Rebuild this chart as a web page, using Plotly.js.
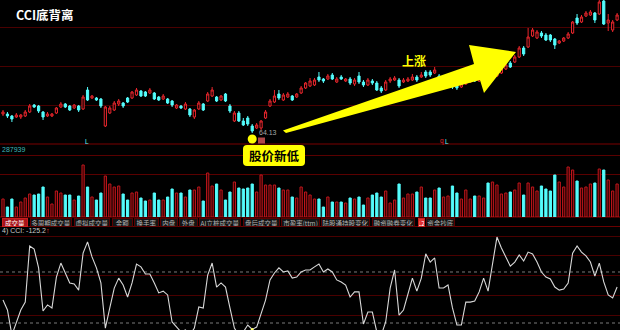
<!DOCTYPE html>
<html><head><meta charset="utf-8">
<script src="https://cdn.plot.ly/plotly-3.0.1.min.js"></script>
<style>html,body{margin:0;padding:0;background:#000;}#chart{width:620px;height:330px;}</style>
</head><body><div id="chart"></div>
<script>
// ---------- data ----------
const openP = [68.88,68.88,68.38,68.13,68.13,68.38,69.38,71.13,70.88,69.38,
68.38,68.38,69.13,70.63,71.38,70.88,70.38,70.88,70.13,74.88,
72.88,72.88,72.63,65.88,69.13,69.88,71.38,71.63,72.88,72.88,
73.63,74.63,74.38,74.13,74.13,73.13,72.63,72.63,72.13,70.38,
70.88,70.13,70.13,68.13,70.13,71.38,72.13,73.38,73.13,72.38,
73.88,70.88,67.13,69.13,67.13,67.88,65.88,65.38,65.38,67.88,
70.88,71.88,73.88,72.38,73.13,73.38,73.13,74.13,75.38,75.88,
76.13,78.13,77.63,77.63,78.63,76.88,78.13,77.13,77.63,76.38,
78.38,76.88,76.13,77.13,76.63,75.38,74.88,77.13,77.38,77.38,
76.88,77.13,77.38,78.13,78.13,79.38,79.38,79.13,78.38,76.88,
77.38,76.88,76.38,75.63,76.38,76.88,77.88,77.13,77.63,78.63,
78.13,78.38,79.13,80.13,81.63,81.88,83.13,85.38,85.63,88.38,
87.88,89.13,88.63,88.63,87.63,86.63,87.13,87.88,89.13,92.88,
91.88,93.38,93.63,94.13,93.88,97.13,91.63,89.88,92.38];
const highP = [69.88,69.38,68.63,69.13,68.88,69.88,71.38,71.38,71.13,69.63,
69.38,69.13,70.63,71.88,71.63,71.13,71.38,71.13,73.63,75.63,
73.63,73.13,72.88,70.88,70.88,72.13,72.63,71.88,73.13,74.63,
75.38,74.88,74.63,75.38,74.38,73.38,73.88,72.88,72.38,71.38,
71.13,71.88,70.38,70.13,72.13,71.63,74.38,75.63,73.38,73.63,
74.13,71.38,69.63,69.63,67.88,68.38,66.38,66.63,67.38,69.88,
72.63,74.88,74.88,74.13,74.38,73.63,74.13,75.88,76.88,77.88,
77.88,79.38,77.88,78.88,79.13,78.13,78.63,77.88,78.13,77.88,
79.38,77.38,77.88,77.63,77.13,75.88,77.38,78.13,78.38,77.88,
77.88,78.13,78.88,78.63,79.38,79.88,79.88,80.63,78.88,78.13,
78.38,77.38,76.63,76.88,77.63,78.13,78.13,78.38,78.88,78.88,
79.38,79.88,80.88,81.63,82.13,83.63,85.88,85.88,90.38,90.38,
89.88,89.63,89.13,88.88,87.88,87.38,88.13,89.38,92.13,93.88,
93.63,94.63,94.88,94.38,97.38,97.38,93.88,92.38,94.13];
const lowP = [68.38,67.88,66.88,67.88,67.63,68.13,69.13,70.38,69.13,67.38,
68.13,68.13,68.88,70.38,70.38,69.63,70.13,69.38,69.88,72.13,
72.63,72.13,70.38,65.63,68.88,69.63,70.88,70.38,71.63,72.63,
73.38,73.13,73.13,73.88,72.38,72.13,72.38,71.38,70.63,70.13,
70.13,69.88,68.13,67.63,69.88,69.63,71.88,73.13,71.88,72.13,
71.88,69.13,66.88,66.88,65.88,65.88,64.13,65.13,64.88,67.63,
70.63,71.63,72.38,72.13,72.88,72.13,72.88,73.88,75.13,75.63,
75.88,76.88,76.63,77.38,77.38,76.63,77.38,76.88,76.13,75.88,
76.38,75.63,75.88,76.13,74.63,74.13,74.63,76.63,77.13,75.38,
76.63,76.88,77.13,76.88,77.88,77.88,78.13,78.88,76.88,76.63,
77.13,75.13,74.88,75.38,76.13,76.63,76.88,76.88,77.38,77.63,
77.88,78.13,78.88,79.88,80.38,81.63,82.88,83.38,85.38,88.13,
87.63,87.88,87.13,86.88,85.13,86.38,86.88,87.63,88.88,91.13,
91.63,93.13,93.38,91.63,93.63,91.13,89.63,89.38,92.13];
const closeP = [69.38,68.38,67.63,68.63,68.63,69.38,70.88,70.63,69.63,68.13,
68.88,68.88,70.38,71.38,70.63,69.88,71.13,69.88,73.13,72.38,
73.38,72.38,70.88,70.63,70.38,71.63,72.13,70.88,71.88,74.38,
74.88,73.38,73.38,74.88,72.63,72.38,73.38,71.63,71.13,71.13,
70.38,71.38,68.63,69.88,71.63,69.88,73.88,74.88,72.13,73.38,
72.13,69.63,69.13,67.13,66.13,66.38,64.63,66.13,67.13,69.38,
72.13,73.38,72.88,73.63,73.88,72.38,73.88,75.38,76.63,77.13,
77.38,77.38,77.13,78.38,77.63,77.63,77.63,77.63,76.63,77.38,
76.88,76.13,77.38,76.63,74.88,74.63,76.88,77.63,77.88,75.88,
77.38,77.63,78.13,77.38,78.63,78.38,78.63,79.88,77.38,77.63,
78.13,75.63,75.38,76.38,77.38,77.63,77.13,77.88,78.38,77.88,
78.88,79.38,80.38,81.13,80.63,83.13,85.38,83.88,88.13,89.88,
89.38,88.38,87.38,87.38,86.13,87.13,87.88,88.88,91.88,91.63,
93.13,94.13,94.38,92.38,96.88,91.38,92.38,91.88,93.63];
const volume = [18,10,18,10,15,19,23,22,23,30,
20,13,26,24,22,22,17,21,52,30,
20,17,24,41,33,30,31,23,17,24,
25,19,16,17,24,17,17,20,28,24,
24,20,27,27,30,16,44,31,33,27,
17,25,35,29,28,29,33,25,42,32,
32,32,29,27,27,20,19,30,25,22,
18,18,10,20,15,15,15,14,19,18,
20,12,19,22,24,20,26,14,17,33,
19,23,23,25,30,19,19,27,29,20,
21,31,24,18,27,18,21,21,19,34,
35,32,23,24,25,27,34,22,34,30,
26,31,28,26,42,35,30,50,47,36,
29,30,33,34,48,47,37,26,33];
const cci = [-10,-49,-147,-96,-49,-18,202,190,116,-53,
-29,-41,80,135,96,57,53,29,174,218,
159,116,57,-120,-41,37,76,49,2,57,
131,120,92,92,57,18,25,10,-96,-116,
-135,-127,-147,-120,-37,-41,88,135,41,57,
41,-41,-120,-147,-135,-108,-125.2,-116,-61,-10,
69,96,116,100,104,76,80,100,108,108,
120,131,100,112,100,69,61,49,2,22,
22,-104,-57,-57,-135,-147,-96,37,108,-69,
-49,10,76,25,76,171,139,155,37,37,
49,-41,-108,-108,-18,-18,-14,22,76,25,
127,237,194,155,123,139,167,143,178,171,
139,100,80,73,41,29,33,57,174,202,
178,163,139,84,135,61,10,-2,41];
const tabLabels = ['成交量','多周期成交量','虚拟成交量','金额','换手率','内盘','外盘','AI立桩成交量',
'盘后成交量','市盈率(ttm)','陆股通持股变化','融资融券变化','L2','资金抄底'];
const titleText = 'CCI底背离';
const riseText = '上涨';
const lowText = '股价新低';
const volLabel = '287939';
const cciLabel = '4) CCI: -125.2';

// ---------- layout helpers ----------
const W = 620, H = 330;
const px = x => x / W, py = y => 1 - y / H;
const days = openP.map((_, i) => i);
const RED = '#e8262c', CYAN = '#54fcfc', VRED = '#c0161c';
const FONT = 'Noto Sans CJK SC, sans-serif';
const up = days.map(i => closeP[i] >= openP[i]);

const tabSpans = [[2,28],[30,72],[74,110],[112,133],[134,159],[160,178],[179,198],[199,241],
[243,280],[281,320],[321,370],[372,415],[418,425],[426,455]];

let minIdx = 0;
lowP.forEach((v, i) => { if (v < lowP[minIdx]) minIdx = i; });

const traces = [
  {type:'candlestick', x:days, open:openP, high:highP, low:lowP, close:closeP,
   xaxis:'x', yaxis:'y', whiskerwidth:0, hoverinfo:'skip',
   increasing:{line:{color:RED,width:1}, fillcolor:'#000'},
   decreasing:{line:{color:CYAN,width:1}, fillcolor:CYAN}},
  {type:'bar', x:days, y:volume, xaxis:'x', yaxis:'y2', hoverinfo:'skip', width:0.5,
   marker:{color:up.map(u => u ? '#300000' : CYAN),
           line:{color:up.map(u => u ? VRED : CYAN), width:1}}},
  {type:'scatter', mode:'lines', x:days, y:cci, xaxis:'x', yaxis:'y3', hoverinfo:'skip',
   line:{color:'#d8d8d8', width:1.1}},
  {type:'scatter', mode:'markers', x:[minIdx], y:[lowP[minIdx]-1.5], xaxis:'x', yaxis:'y',
   marker:{color:'#ffff00', size:9}, hoverinfo:'skip', cliponaxis:false},
  {type:'scatter', mode:'markers', x:[minIdx], y:[cci[minIdx]], xaxis:'x', yaxis:'y3',
   marker:{color:'#ffff60', size:3}, hoverinfo:'skip'}
];

function pathPx(pts){
  return pts.map((p,i)=>(i?'L':'M')+px(p[0]).toFixed(5)+','+py(p[1]).toFixed(5)).join(' ')+' Z';
}
function roundRect(x0,y0,x1,y1,r){
  const P=(x,y)=>px(x).toFixed(5)+','+py(y).toFixed(5);
  return 'M'+P(x0+r,y0)+' L'+P(x1-r,y0)+' Q'+P(x1,y0)+' '+P(x1,y0+r)+
    ' L'+P(x1,y1-r)+' Q'+P(x1,y1)+' '+P(x1-r,y1)+' L'+P(x0+r,y1)+' Q'+P(x0,y1)+' '+P(x0,y1-r)+
    ' L'+P(x0,y0+r)+' Q'+P(x0,y0)+' '+P(x0+r,y0)+' Z';
}
const hline = (y, color, dash) => ({type:'line', xref:'paper', yref:'paper', x0:0, x1:1,
  y0:py(y), y1:py(y), line:{color:color, width:1, dash:dash||'solid'}, layer:'below'});

const shapes = [
  hline(144,'#7a0000'), hline(217,'#8a0000'), hline(226.5,'#6a0000'),
  {type:'line', xref:'paper', yref:'y3', x0:0, x1:1, y0:100, y1:100,
   line:{color:'#7a7a7a', width:1, dash:'dot'}, layer:'below'},
  {type:'line', xref:'paper', yref:'y3', x0:0, x1:1, y0:-100, y1:-100,
   line:{color:'#7a7a7a', width:1, dash:'dot'}, layer:'below'},
  {type:'path', xref:'paper', yref:'paper', layer:'above', fillcolor:'#ffff00', line:{width:0},
   path:pathPx([[283,130.5],[474,64],[469,45],[516,52],[484,93],[480,80],[286,133]])},
  {type:'path', xref:'paper', yref:'paper', layer:'above', fillcolor:'#ffff00', line:{width:0},
   path:roundRect(243,145,305,166,4)},
  {type:'rect', xref:'paper', yref:'paper', layer:'above', fillcolor:'#b04848', line:{width:0},
   x0:px(258), x1:px(265), y0:py(143.5), y1:py(137.5)}
];

const annotations = [
  {xref:'paper', yref:'paper', x:px(14), y:py(15), xanchor:'left', yanchor:'middle', showarrow:false,
   text:'<b>'+titleText+'</b>', font:{family:FONT, size:12.5, color:'#ffffff'}},
  {xref:'paper', yref:'paper', x:px(413.5), y:py(60), xanchor:'center', yanchor:'middle', showarrow:false,
   text:'<b>'+riseText+'</b>', font:{family:FONT, size:12, color:'#ffff00'}},
  {xref:'paper', yref:'paper', x:px(274), y:py(155.5), xanchor:'center', yanchor:'middle', showarrow:false,
   text:'<b>'+lowText+'</b>', font:{family:FONT, size:12.5, color:'#000000'}},
  {xref:'x', yref:'y', x:minIdx, y:lowP[minIdx], xshift:5, yshift:1, xanchor:'left', yanchor:'middle',
   showarrow:false, text:lowP[minIdx].toFixed(2), font:{family:'Liberation Sans, Arial', size:7, color:'#a8a8a8'}},
  {xref:'paper', yref:'paper', x:0, y:py(149.5), xanchor:'left', yanchor:'middle', showarrow:false,
   text:volLabel, font:{family:'Liberation Sans, Arial', size:7, color:'#3fb8b8'}},
  {xref:'paper', yref:'paper', x:px(87), y:py(141), xanchor:'center', yanchor:'middle', showarrow:false,
   text:'L', font:{family:'Liberation Sans, Arial', size:6.5, color:CYAN}},
  {xref:'paper', yref:'paper', x:px(442), y:py(141), xanchor:'center', yanchor:'middle', showarrow:false,
   text:'q', font:{family:'Liberation Sans, Arial', size:6.5, color:RED}},
  {xref:'paper', yref:'paper', x:px(447), y:py(141), xanchor:'center', yanchor:'middle', showarrow:false,
   text:'L', font:{family:'Liberation Sans, Arial', size:6.5, color:CYAN}},
  {xref:'paper', yref:'paper', x:0, y:py(231), xanchor:'left', yanchor:'middle', showarrow:false,
   text:cciLabel+'<span style="color:#ff3030">↑</span>', font:{family:'Liberation Sans, Arial', size:7, color:'#c8c8c8'}}
];
tabLabels.forEach((t, i) => {
  const [a, b] = tabSpans[i];
  const sel = i === 0, l2 = t === 'L2';
  annotations.push({xref:'paper', yref:'paper', x:px((a+b)/2), y:py(222), xanchor:'center', yanchor:'middle',
    showarrow:false, text:t, width:b-a-2, height:7, borderpad:0, borderwidth:1,
    bgcolor: sel ? '#a8141a' : (l2 ? '#e03030' : '#141414'),
    bordercolor: sel || l2 ? '#c81e1e' : '#5a0000',
    font:{family:FONT, size:6.5, color: sel || l2 ? '#ffffff' : '#b4b4b4'}});
});

const layout = {
  width:W, height:H, margin:{l:0,r:0,t:0,b:0}, paper_bgcolor:'#000', plot_bgcolor:'#000',
  showlegend:false, bargap:0.3, hovermode:false, dragmode:false,
  xaxis:{range:[-0.674,138.65], showgrid:false, zeroline:false, showticklabels:false, ticks:'',
         showline:false, rangeslider:{visible:false}, anchor:'y3', fixedrange:true},
  yaxis:{domain:[py(144),1], range:[61.38,97.38], tickvals:[71.13,80.88,90.63], gridcolor:'#4a0000',
         showticklabels:false, zeroline:false, ticks:'', showline:false, fixedrange:true},
  yaxis2:{domain:[py(217),py(144)], range:[0,73], tickvals:[43,62], gridcolor:'#5a0000',
          showticklabels:false, zeroline:false, ticks:'', showline:false, fixedrange:true},
  yaxis3:{domain:[0,py(227)], range:[-127.4,276.36], tickvals:[237.2,162.7,84.3,5.9,-72.5], gridcolor:'#4a0000',
          showticklabels:false, zeroline:false, ticks:'', showline:false, fixedrange:true},
  shapes:shapes, annotations:annotations
};
Plotly.newPlot('chart', traces, layout, {staticPlot:true, displayModeBar:false});
</script></body></html>
